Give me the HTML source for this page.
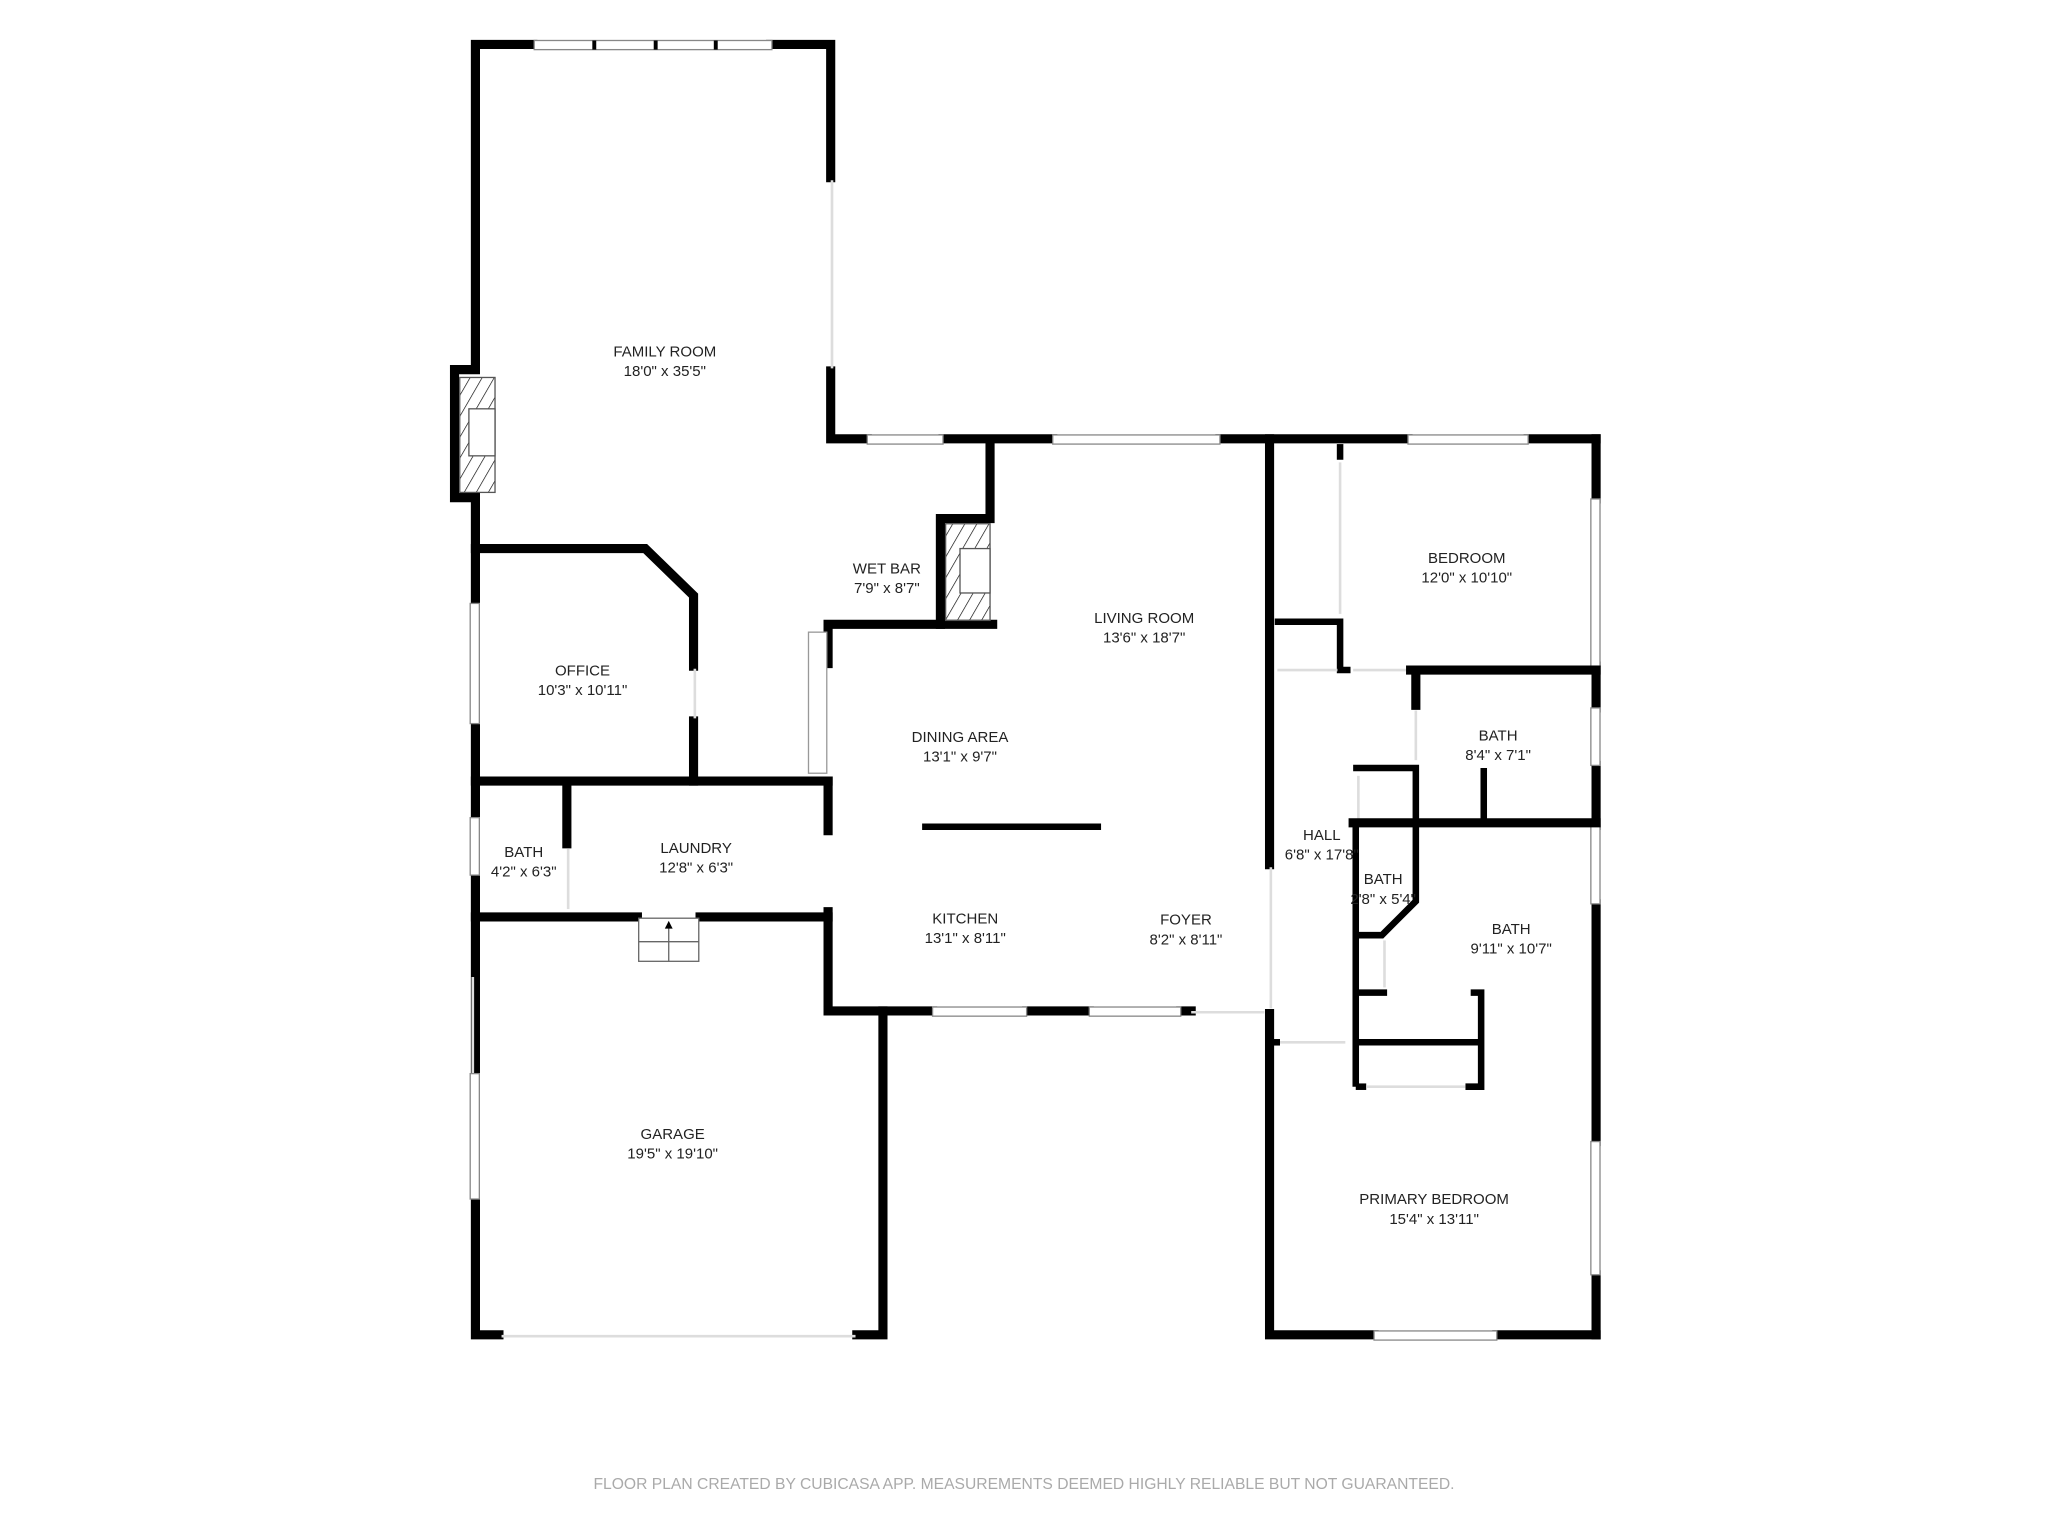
<!DOCTYPE html>
<html><head><meta charset="utf-8"><style>
html,body{margin:0;padding:0;background:#fff;width:2048px;height:1536px;overflow:hidden}
svg{display:block}
text{font-family:"Liberation Sans",sans-serif;font-size:11.5px;fill:#222;text-anchor:middle}
.w{stroke:#000;stroke-width:7;fill:none;stroke-linecap:square}
.t{stroke:#000;stroke-width:5;fill:none}
.win{fill:#fff;stroke:#888;stroke-width:1}
.op{stroke:#ddd;stroke-width:2}
</style></head><body>
<svg width="2048" height="1536" viewBox="0 0 1568 1176" xmlns="http://www.w3.org/2000/svg">
<defs>
<pattern id="h" width="8" height="8" patternUnits="userSpaceOnUse" patternTransform="rotate(30)">
<line x1="0" y1="0" x2="0" y2="8" stroke="#000" stroke-width="1"/></pattern>
</defs>
<polyline class="w" points="408,34 364,34 364,283 348,283 348,381 364,381 364,1022 382,1022"/>
<polyline class="w" points="590,34 636,34 636,136"/>
<polyline class="w" points="636,284 636,336 664,336"/>
<line class="op" x1="637" y1="138" x2="637" y2="282"/>
<rect x="352" y="289" width="27" height="88" fill="url(#h)" stroke="#555"/>
<rect x="359" y="313" width="20" height="36" fill="#fff" stroke="#555"/>
<rect class="win" x="409" y="31" width="182" height="7"/>
<line x1="455" y1="31" x2="455" y2="38" stroke="#000" stroke-width="3"/>
<line x1="502" y1="31" x2="502" y2="38" stroke="#000" stroke-width="3"/>
<line x1="548" y1="31" x2="548" y2="38" stroke="#000" stroke-width="3"/>
<line class="w" x1="722" y1="336" x2="806" y2="336"/>
<line class="w" x1="934" y1="336" x2="1078" y2="336"/>
<line class="w" x1="1170" y1="336" x2="1222" y2="336"/>
<rect class="win" x="664" y="333" width="58" height="7"/>
<rect class="win" x="806" y="333" width="128" height="7"/>
<rect class="win" x="1078" y="333" width="92" height="7"/>
<line class="w" x1="1222" y1="336" x2="1222" y2="382"/>
<line class="w" x1="1222" y1="510" x2="1222" y2="542"/>
<line class="w" x1="1222" y1="586" x2="1222" y2="632"/>
<line class="w" x1="1222" y1="692" x2="1222" y2="874"/>
<line class="w" x1="1222" y1="976" x2="1222" y2="1022"/>
<rect class="win" x="1218" y="382" width="7" height="128"/>
<rect class="win" x="1218" y="542" width="7" height="44"/>
<rect class="win" x="1218" y="632" width="7" height="60"/>
<rect class="win" x="1218" y="874" width="7" height="102"/>
<polyline class="w" points="1052,1022 972,1022 972,776"/>
<line class="w" x1="1146" y1="1022" x2="1222" y2="1022"/>
<rect class="win" x="1052" y="1019" width="94" height="7"/>
<line class="w" x1="972" y1="336" x2="972" y2="662"/>
<line class="op" x1="973" y1="664" x2="973" y2="772"/>
<polyline class="w" points="634,698 634,774 714,774"/>
<line class="w" x1="786" y1="774" x2="834" y2="774"/>
<line class="w" x1="904" y1="774" x2="912" y2="774"/>
<rect class="win" x="714" y="771" width="72" height="7"/>
<rect class="win" x="834" y="771" width="70" height="7"/>
<line class="op" x1="912" y1="775" x2="968" y2="775"/>
<polyline class="w" points="364,702 488,702"/>
<polyline class="w" points="536,702 634,702"/>
<polyline class="w" points="676,774 676,1022 656,1022"/>
<line class="op" x1="384" y1="1023" x2="655" y2="1023"/>
<line class="op" x1="362" y1="748" x2="362" y2="822"/>
<rect class="win" x="360" y="822" width="7" height="96"/>
<rect x="489" y="703" width="46" height="33" fill="#fff" stroke="#666"/>
<line x1="489" y1="721" x2="535" y2="721" stroke="#666"/>
<line x1="512" y1="708" x2="512" y2="736" stroke="#666"/>
<polygon points="512,705 509,711 515,711" fill="#000"/>
<rect class="win" x="360" y="462" width="7" height="92"/>
<rect class="win" x="360" y="626" width="7" height="44"/>
<polyline class="w" points="364,420 494,420 531,456 531,510"/>
<line class="w" x1="531" y1="552" x2="531" y2="598"/>
<line class="op" x1="532" y1="512" x2="532" y2="550"/>
<line class="w" x1="364" y1="598" x2="634" y2="598"/>
<line class="w" x1="634" y1="598" x2="634" y2="636"/>
<line class="w" x1="434" y1="598" x2="434" y2="646"/>
<line class="op" x1="435" y1="650" x2="435" y2="696"/>
<polyline class="w" points="634,508 634,478 760,478"/>
<rect x="619" y="484" width="14" height="108" fill="#fff" stroke="#999"/>
<polyline class="w" points="720,478 720,397 758,397 758,340"/>
<rect x="724" y="401" width="34" height="74" fill="url(#h)" stroke="#555"/>
<rect x="735" y="420" width="23" height="34" fill="#fff" stroke="#555"/>
<line x1="706" y1="633" x2="843" y2="633" stroke="#000" stroke-width="5"/>
<line x1="1026" y1="340" x2="1026" y2="352" stroke="#000" stroke-width="5"/>
<line class="op" x1="1026" y1="354" x2="1026" y2="470"/>
<polyline class="t" points="976,476 1026,476 1026,513 1034,513"/>
<line class="op" x1="978" y1="513" x2="1024" y2="513"/>
<line class="op" x1="1036" y1="513" x2="1078" y2="513"/>
<line class="w" x1="1080" y1="513" x2="1222" y2="513"/>
<line class="w" x1="1084" y1="513" x2="1084" y2="540"/>
<line class="op" x1="1084" y1="544" x2="1084" y2="582"/>
<polyline class="t" points="1036,588 1084,588 1084,690 1058,716 1038,716"/>
<line class="op" x1="1040" y1="594" x2="1040" y2="628"/>
<line class="t" x1="1136" y1="588" x2="1136" y2="630"/>
<line class="w" x1="1036" y1="630" x2="1222" y2="630"/>
<line class="t" x1="1038" y1="630" x2="1038" y2="832"/>
<polyline class="t" points="1038,760 1062,760"/>
<line class="op" x1="1060" y1="720" x2="1060" y2="756"/>
<polyline class="t" points="1126,760 1134,760 1134,832 1122,832"/>
<line class="t" x1="1038" y1="798" x2="1134" y2="798"/>
<line class="t" x1="1038" y1="832" x2="1046" y2="832"/>
<line class="op" x1="1046" y1="832" x2="1122" y2="832"/>
<line class="op" x1="980" y1="798" x2="1030" y2="798"/>
<line class="t" x1="974" y1="798" x2="980" y2="798"/>
<text x="509" y="273">FAMILY ROOM</text><text x="509" y="288">18'0" x 35'5"</text>
<text x="679" y="439">WET BAR</text><text x="679" y="454">7'9" x 8'7"</text>
<text x="876" y="477">LIVING ROOM</text><text x="876" y="492">13'6" x 18'7"</text>
<text x="1123" y="431">BEDROOM</text><text x="1123" y="446">12'0" x 10'10"</text>
<text x="446" y="517">OFFICE</text><text x="446" y="532">10'3" x 10'11"</text>
<text x="735" y="568">DINING AREA</text><text x="735" y="583">13'1" x 9'7"</text>
<text x="1147" y="567">BATH</text><text x="1147" y="582">8'4" x 7'1"</text>
<text x="1012" y="643">HALL</text><text x="1012" y="658">6'8" x 17'8"</text>
<text x="401" y="656">BATH</text><text x="401" y="671">4'2" x 6'3"</text>
<text x="533" y="653">LAUNDRY</text><text x="533" y="668">12'8" x 6'3"</text>
<text x="1059" y="677">BATH</text><text x="1059" y="692">2'8" x 5'4"</text>
<text x="739" y="707">KITCHEN</text><text x="739" y="722">13'1" x 8'11"</text>
<text x="908" y="708">FOYER</text><text x="908" y="723">8'2" x 8'11"</text>
<text x="1157" y="715">BATH</text><text x="1157" y="730">9'11" x 10'7"</text>
<text x="515" y="872">GARAGE</text><text x="515" y="887">19'5" x 19'10"</text>
<text x="1098" y="922">PRIMARY BEDROOM</text><text x="1098" y="937">15'4" x 13'11"</text>
<text x="784" y="1140" style="font-size:12px;fill:#aaa">FLOOR PLAN CREATED BY CUBICASA APP. MEASUREMENTS DEEMED HIGHLY RELIABLE BUT NOT GUARANTEED.</text>
</svg>
</body></html>
